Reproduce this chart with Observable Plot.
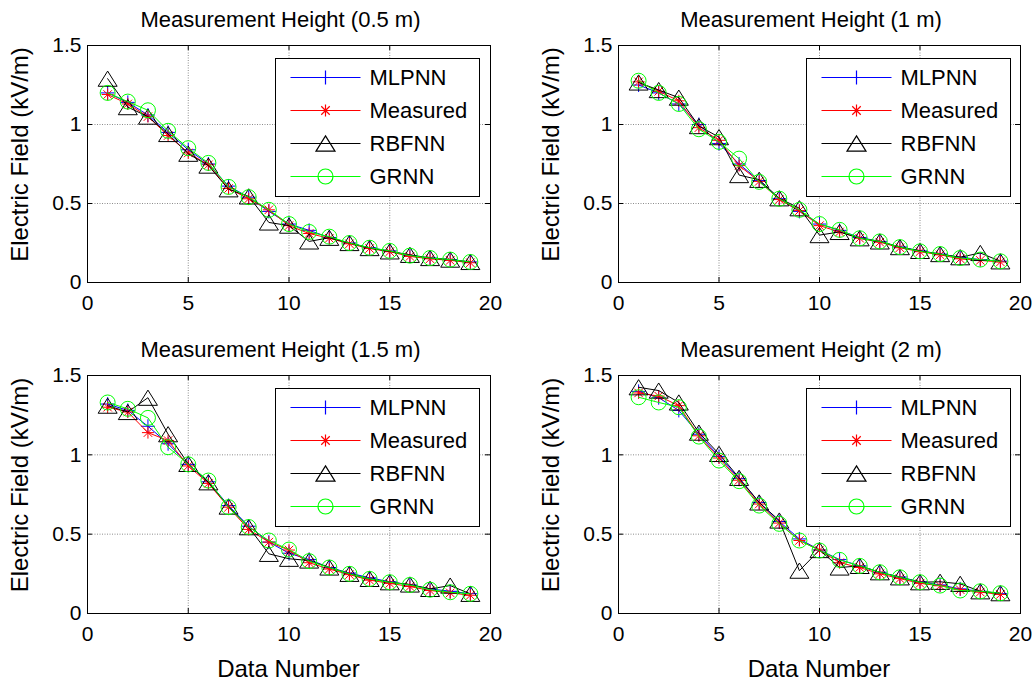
<!DOCTYPE html>
<html><head><meta charset="utf-8">
<script src="https://cdn.jsdelivr.net/npm/d3@7"></script>
<script src="https://cdn.jsdelivr.net/npm/@observablehq/plot@0.6"></script>
<style>
body{margin:0;background:#fff;}
#chart{position:relative;width:1036px;height:684px;font-family:"Liberation Sans",Arial,sans-serif;background:#fff;}
.panel{position:absolute;width:518px;height:342px;}
.panel svg{position:absolute;left:0;top:0;overflow:visible;}
</style></head><body><div id="chart"></div>
<script>
// ---- data ----
const dataNumber = [1,2,3,4,5,6,7,8,9,10,11,12,13,14,15,16,17,18,19];
const panelTitles = ["Measurement Height (0.5 m)","Measurement Height (1 m)","Measurement Height (1.5 m)","Measurement Height (2 m)"];
const seriesNames = ["MLPNN","Measured","RBFNN","GRNN"];
const seriesColors = ["#0000ff","#ff0000","#000000","#00ff00"];
const xTicks = [0,5,10,15,20];
const yTicks = [0,0.5,1,1.5];
const xLabel = "Data Number";
const yLabel = "Electric Field (kV/m)";

// 0.5 m
const mlpnn05    = [1.20,1.14,1.06,0.95,0.84,0.75,0.61,0.54,0.45,0.37,0.33,0.285,0.25,0.22,0.20,0.17,0.155,0.145,0.13];
const measured05 = [1.19,1.13,1.05,0.93,0.82,0.745,0.595,0.53,0.46,0.36,0.31,0.28,0.245,0.215,0.195,0.165,0.15,0.14,0.125];
const rbfnn05    = [1.29,1.11,1.05,0.94,0.815,0.74,0.59,0.545,0.38,0.36,0.26,0.283,0.25,0.218,0.197,0.175,0.155,0.145,0.13];
const grnn05     = [1.20,1.145,1.09,0.96,0.85,0.757,0.605,0.54,0.46,0.37,0.32,0.29,0.25,0.22,0.20,0.17,0.155,0.145,0.13];
// 1 m
const mlpnn10    = [1.25,1.20,1.13,1.00,0.88,0.75,0.645,0.53,0.45,0.37,0.33,0.285,0.26,0.225,0.20,0.18,0.16,0.145,0.135];
const measured10 = [1.27,1.21,1.15,0.98,0.90,0.74,0.64,0.525,0.455,0.36,0.32,0.28,0.255,0.22,0.195,0.175,0.15,0.14,0.13];
const rbfnn10    = [1.266,1.218,1.17,0.99,0.92,0.68,0.65,0.533,0.47,0.30,0.32,0.28,0.26,0.224,0.20,0.18,0.16,0.187,0.134];
const grnn10     = [1.277,1.20,1.13,0.97,0.89,0.784,0.637,0.53,0.46,0.37,0.333,0.28,0.26,0.224,0.197,0.18,0.155,0.145,0.134];
// 1.5 m
const mlpnn15    = [1.32,1.28,1.18,1.07,0.94,0.83,0.68,0.55,0.45,0.38,0.34,0.29,0.255,0.225,0.20,0.18,0.155,0.14,0.125];
const measured15 = [1.30,1.27,1.14,1.09,0.93,0.82,0.67,0.53,0.45,0.40,0.32,0.28,0.245,0.21,0.19,0.17,0.145,0.13,0.115];
const rbfnn15    = [1.31,1.27,1.36,1.13,0.943,0.827,0.674,0.544,0.376,0.345,0.334,0.29,0.25,0.218,0.197,0.183,0.155,0.176,0.124];
const grnn15     = [1.33,1.29,1.233,1.048,0.94,0.838,0.67,0.545,0.46,0.403,0.33,0.29,0.25,0.218,0.197,0.18,0.15,0.134,0.124];
// 2 m
const mlpnn20    = [1.40,1.36,1.28,1.13,0.99,0.85,0.70,0.58,0.47,0.40,0.34,0.30,0.26,0.23,0.20,0.18,0.155,0.14,0.125];
const measured20 = [1.39,1.37,1.31,1.12,0.98,0.84,0.69,0.57,0.46,0.40,0.32,0.29,0.25,0.22,0.19,0.175,0.15,0.135,0.12];
const rbfnn20    = [1.426,1.405,1.33,1.14,1.006,0.855,0.70,0.586,0.27,0.40,0.29,0.30,0.26,0.228,0.197,0.20,0.187,0.14,0.128];
const grnn20     = [1.363,1.33,1.30,1.115,0.964,0.834,0.68,0.565,0.46,0.397,0.338,0.30,0.26,0.228,0.197,0.176,0.145,0.14,0.128];

const panelSeries = [
  [mlpnn05, measured05, rbfnn05, grnn05],
  [mlpnn10, measured10, rbfnn10, grnn10],
  [mlpnn15, measured15, rbfnn15, grnn15],
  [mlpnn20, measured20, rbfnn20, grnn20]
];

// ---- marker symbols (MATLAB-like) ----
const rOf = s => Math.sqrt(s / Math.PI);
const plusSym = {draw(c, s){const r=rOf(s); c.moveTo(-r,0); c.lineTo(r,0); c.moveTo(0,-r); c.lineTo(0,r);}};
const starSym = {draw(c, s){const r=rOf(s), d=r*0.7071; c.moveTo(-r,0); c.lineTo(r,0); c.moveTo(0,-r); c.lineTo(0,r); c.moveTo(-d,-d); c.lineTo(d,d); c.moveTo(-d,d); c.lineTo(d,-d);}};
const triSym = {draw(c, s){const r=rOf(s); c.moveTo(0,-r*0.8); c.lineTo(r,r*0.8); c.lineTo(-r,r*0.8); c.closePath();}};
const circSym = {draw(c, s){const r=rOf(s); c.moveTo(r,0); c.arc(0,0,r,0,2*Math.PI);}};
const symbols = [plusSym, starSym, triSym, circSym];
const symR = [7, 6, 9.5, 7.5];

const FONT = '"Liberation Sans", Arial, sans-serif';
const chart = document.getElementById("chart");

panelTitles.forEach((title, i) => {
  const col = i % 2, row = Math.floor(i / 2);
  const mL = col ? 100 : 87, mR = col ? 16 : 28, mT = row ? 33 : 45, mB = row ? 71 : 60;
  const W = 518, H = 342;
  const pw = W - mL - mR, ph = H - mT - mB;

  const div = document.createElement("div");
  div.className = "panel";
  div.style.left = (col * 518) + "px";
  div.style.top = (row * 342) + "px";
  chart.appendChild(div);

  const seriesMarks = [];
  panelSeries[i].forEach((vals, k) => {
    const rows = dataNumber.map((n, j) => ({n, v: vals[j]}));
    seriesMarks.push(Plot.line(rows, {x: "n", y: "v", stroke: seriesColors[k], strokeWidth: 1}));
    seriesMarks.push(Plot.dot(rows, {x: "n", y: "v", symbol: symbols[k], r: symR[k], stroke: seriesColors[k], fill: "none", strokeWidth: 1}));
  });

  const plot = Plot.plot({
    width: W, height: H,
    marginLeft: mL, marginRight: mR, marginTop: mT, marginBottom: mB,
    style: {fontFamily: FONT, background: "transparent", overflow: "visible"},
    x: {domain: [0, 20], label: null},
    y: {domain: [0, 1.5], label: null},
    marks: [
      Plot.ruleX(xTicks.slice(1, -1), {x: d => d, stroke: "#8c8c8c", strokeDasharray: "1,1.5", strokeWidth: 1}),
      Plot.ruleY(yTicks.slice(1, -1), {y: d => d, stroke: "#8c8c8c", strokeDasharray: "1,1.5", strokeWidth: 1}),
      ...seriesMarks,
      Plot.frame({stroke: "#000", strokeWidth: 1}),
      Plot.ruleX(xTicks, {x: d => d, y1: 0, y2: 0, insetTop: -5, stroke: "#000"}),
      Plot.ruleX(xTicks, {x: d => d, y1: 1.5, y2: 1.5, insetBottom: -5, stroke: "#000"}),
      Plot.ruleY(yTicks, {y: d => d, x1: 0, x2: 0, insetRight: -5, stroke: "#000"}),
      Plot.ruleY(yTicks, {y: d => d, x1: 20, x2: 20, insetLeft: -5, stroke: "#000"}),
      Plot.axisX(xTicks, {anchor: "bottom", tickSize: 0, tickPadding: 13, fontSize: 21, label: null, tickFormat: d => String(d)}),
      Plot.axisY(yTicks, {anchor: "left", tickSize: 0, tickPadding: 6, fontSize: 21, label: null, tickFormat: d => String(d)})
    ]
  });
  div.appendChild(plot);

  // overlay: title, axis labels, legend
  const ov = d3.select(div).append("svg")
    .attr("width", W).attr("height", H)
    .style("pointer-events", "none")
    .attr("font-family", FONT);
  ov.append("text").attr("x", mL + pw / 2 - 8).attr("y", mT - 18)
    .attr("text-anchor", "middle").attr("font-size", 22).attr("fill", "#000").text(title);
  ov.append("text")
    .attr("transform", `translate(${mL - 59},${mT + ph / 2 - 9}) rotate(-90)`)
    .attr("text-anchor", "middle").attr("font-size", 24).attr("fill", "#000").text(yLabel);
  if (row === 1) {
    ov.append("text").attr("x", mL + pw / 2).attr("y", mT + ph + 64)
      .attr("text-anchor", "middle").attr("font-size", 24).attr("fill", "#000").text(xLabel);
  }
  const lg = ov.append("g").attr("transform", `translate(${mL + 188.5},${mT + 13.5})`);
  lg.append("rect").attr("width", 204).attr("height", 138).attr("fill", "#fff").attr("stroke", "#000");
  seriesNames.forEach((name, k) => {
    const y = 19 + k * 33;
    lg.append("line").attr("x1", 15).attr("x2", 85).attr("y1", y).attr("y2", y)
      .attr("stroke", seriesColors[k]).attr("stroke-width", 1.2);
    lg.append("path").attr("d", d3.symbol(symbols[k], Math.PI * symR[k] * symR[k])())
      .attr("transform", `translate(50,${y})`).attr("fill", "none").attr("stroke", seriesColors[k]).attr("stroke-width", 1.2);
    lg.append("text").attr("x", 94).attr("y", y).attr("dy", "0.36em")
      .attr("font-size", 22).attr("fill", "#000").text(name);
  });
});
</script></body></html>
